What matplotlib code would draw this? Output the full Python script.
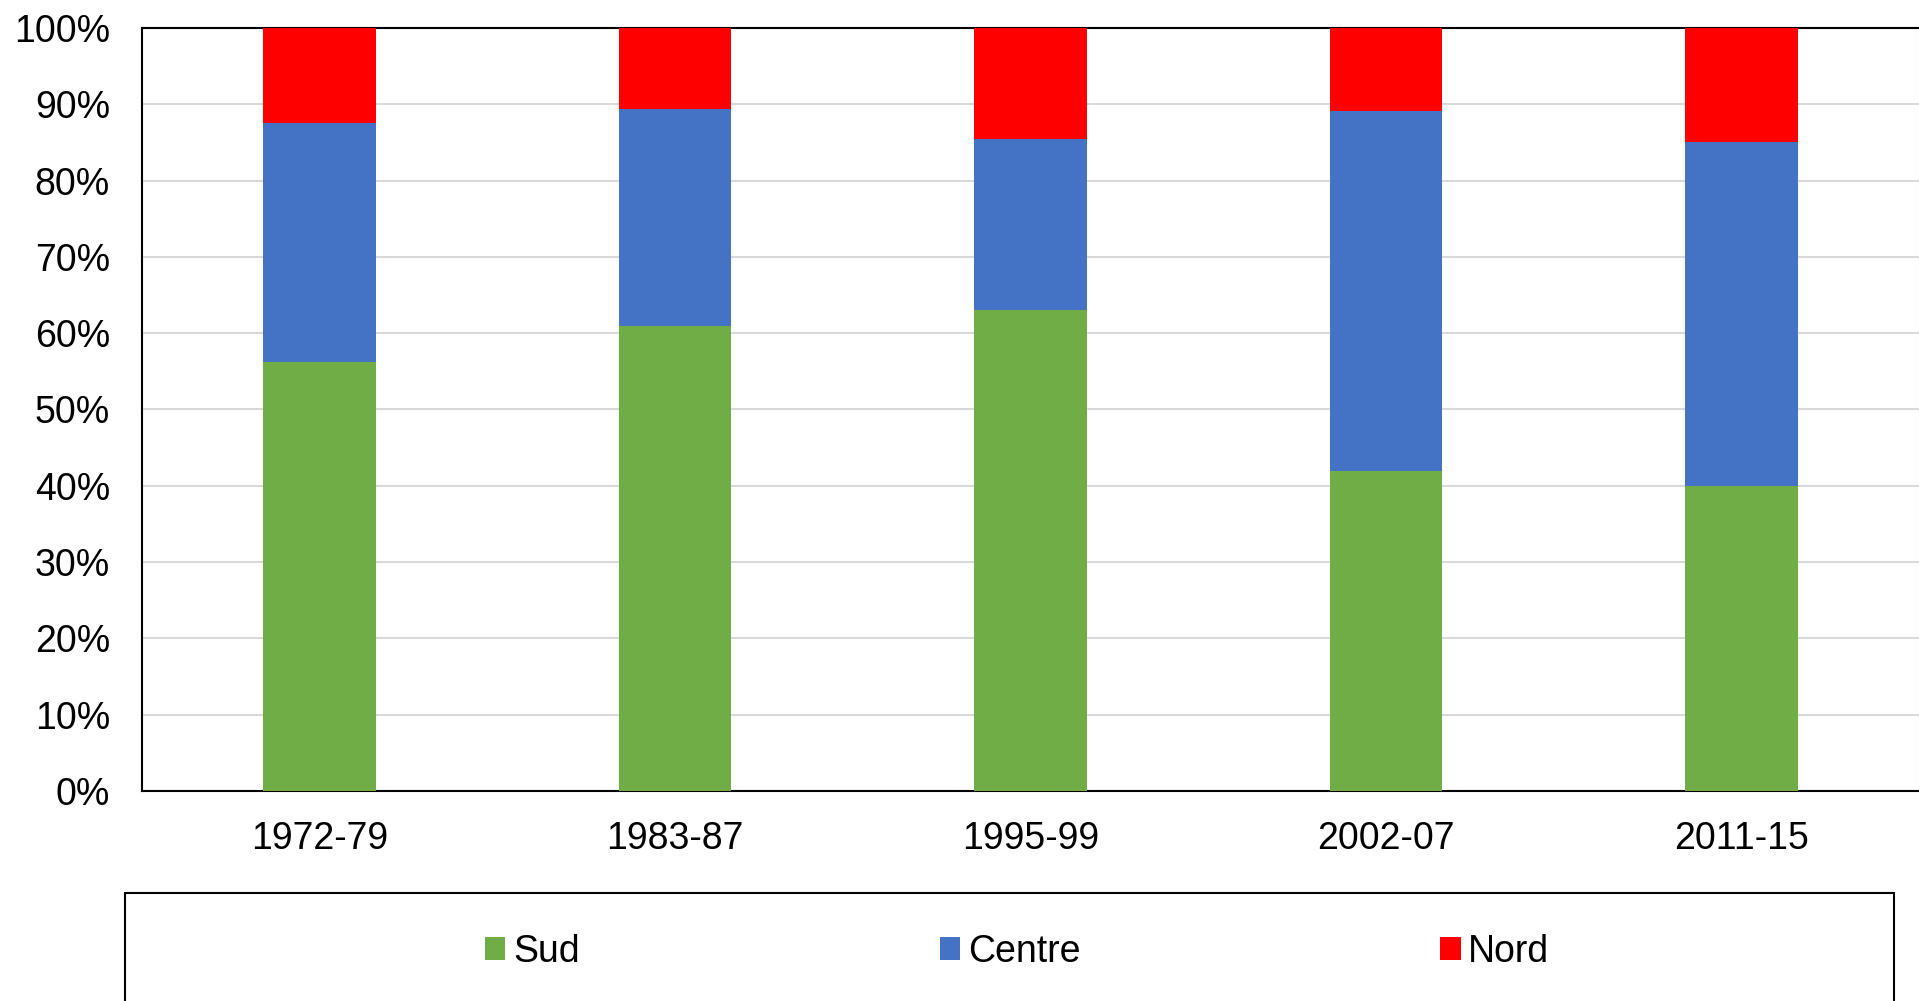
"""Regional shares by period, stacked to 100%."""
import matplotlib
matplotlib.use("Agg")
import matplotlib.pyplot as plt
from matplotlib.patches import Rectangle
from matplotlib.ticker import PercentFormatter, MultipleLocator
import numpy as np

periods = ["1972-79", "1983-87", "1995-99", "2002-07", "2011-15"]
sud = [0.562, 0.609, 0.630, 0.420, 0.400]
centre = [0.313, 0.285, 0.224, 0.471, 0.450]
nord = [0.125, 0.106, 0.146, 0.109, 0.150]

plt.rcParams["font.family"] = ["Liberation Sans", "DejaVu Sans"]

fig = plt.figure(figsize=(19.19, 10.01), dpi=100)
ax = fig.add_axes([0.074, 0.2098, 0.926, 0.7623])

x = np.arange(len(periods))
width = 0.317
bottom2 = np.array(sud) + np.array(centre)
ax.bar(x, sud, width, color="#70AD47", label="Sud", zorder=3)
ax.bar(x, centre, width, bottom=sud, color="#4472C4", label="Centre", zorder=3)
ax.bar(x, nord, width, bottom=bottom2, color="#FF0000", label="Nord", zorder=3)

ax.set_xlim(-0.5, len(periods) - 0.5)
ax.set_ylim(0, 1)
ax.yaxis.set_major_locator(MultipleLocator(0.1))
ax.yaxis.set_major_formatter(PercentFormatter(1.0, decimals=0))
ax.set_xticks(x)
ax.set_xticklabels(periods)
ax.tick_params(axis="both", length=0, labelsize=27)
ax.tick_params(axis="x", pad=21.5)
ax.tick_params(axis="y", pad=23)
ax.grid(axis="y", color="#d9d9d9", linewidth=1.5, zorder=0)

for side in ["left", "bottom", "top"]:
    ax.spines[side].set_color("black")
    ax.spines[side].set_linewidth(1.5)
ax.spines["right"].set_color("#d9d9d9")

# legend box
fig.patches.append(Rectangle((0.0651, -0.05), 0.922, 0.158, transform=fig.transFigure,
                             fill=False, edgecolor="black", linewidth=1.5))
fig.legend(loc="center", bbox_to_anchor=(0.530, 0.049), ncol=3, frameon=False,
           fontsize=27, handlelength=0.55, handleheight=0.55, handletextpad=0.2,
           columnspacing=9.6)

fig.savefig("out.png", dpi=100)
